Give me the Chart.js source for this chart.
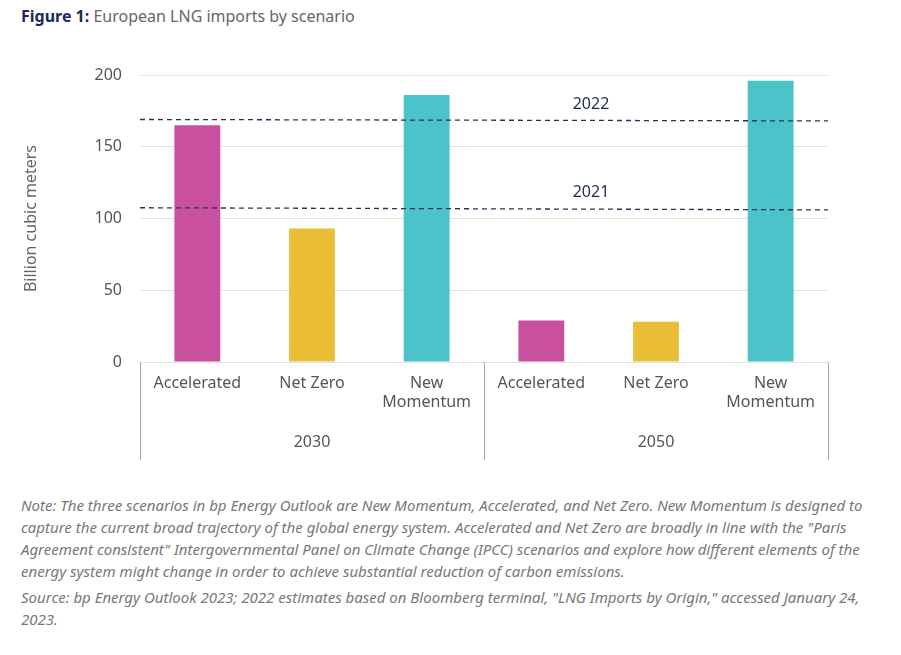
<!DOCTYPE html>
<html>
<head>
<meta charset="utf-8">
<script src="https://cdn.jsdelivr.net/npm/chart.js@4"></script>
<style>
  body { margin: 0; background: #fff; font-family: "Noto Sans", sans-serif; }
  #title { position: absolute; left: 21px; top: 5px; font-size: 16px; color: #666; }
  #title b { color: #1d2a5c; }
  #wrap { position: absolute; left: 0; top: 0; width: 901px; height: 480px; }
  #notes { position: absolute; left: 21px; top: 494px; width: 862px; font-size: 15px; line-height: 22px; color: #777; font-style: italic; }
  #notes p { margin: 0 0 4px 0; }
</style>
</head>
<body>
<div id="title"><b>Figure 1:</b> European LNG imports by scenario</div>
<div id="wrap"><canvas id="lngChart"></canvas></div>
<div id="notes">
<p>Note: The three scenarios in bp Energy Outlook are New Momentum, Accelerated, and Net Zero. New Momentum is designed to capture the current broad trajectory of the global energy system. Accelerated and Net Zero are broadly in line with the "Paris Agreement consistent" Intergovernmental Panel on Climate Change (IPCC) scenarios and explore how different elements of the energy system might change in order to achieve substantial reduction of carbon emissions.</p>
<p>Source: bp Energy Outlook 2023; 2022 estimates based on Bloomberg terminal, "LNG Imports by Origin," accessed January 24, 2023.</p>
</div>
<script>
const categories = [["Accelerated"], ["Net Zero"], ["New", "Momentum"], ["Accelerated"], ["Net Zero"], ["New", "Momentum"]];
const groups = ["2030", "2050"];
const imports = [165, 93, 186, 29, 28, 196];
const barColors = ["#c9509e", "#eabf37", "#4bc3c8", "#c9509e", "#eabf37", "#4bc3c8"];
const refLabels = ["2022", "2021"];
const refStart = [169, 107.5];
const refEnd = [168, 106];

const overlay = {
  id: "overlay",
  afterDatasetsDraw(chart) {
    const ctx = chart.ctx, a = chart.chartArea, y = chart.scales.y;
    ctx.save();
    ctx.strokeStyle = "#2a2f5e"; ctx.lineWidth = 1.3; ctx.setLineDash([5, 4]);
    refLabels.forEach((lab, i) => {
      ctx.beginPath();
      ctx.moveTo(a.left, y.getPixelForValue(refStart[i]));
      ctx.lineTo(a.right, y.getPixelForValue(refEnd[i]));
      ctx.stroke();
    });
    ctx.setLineDash([]);
    ctx.fillStyle = "#1d2a5c"; ctx.font = "16px 'Noto Sans', sans-serif";
    ctx.textAlign = "center"; ctx.textBaseline = "bottom";
    const mx = (a.left + a.right) / 2 + 107;
    refLabels.forEach((lab, i) => {
      ctx.fillText(lab, mx, y.getPixelForValue((refStart[i] + refEnd[i]) / 2) - 8);
    });
    ctx.strokeStyle = "#aaa"; ctx.lineWidth = 1;
    const half = (a.right - a.left) / groups.length;
    for (let g = 0; g <= groups.length; g++) {
      const x = Math.round(a.left + g * half) + 0.5;
      ctx.beginPath(); ctx.moveTo(x, a.bottom); ctx.lineTo(x, a.bottom + 98); ctx.stroke();
    }
    ctx.fillStyle = "#555"; ctx.textBaseline = "middle";
    groups.forEach((g, i) => ctx.fillText(g, a.left + (i + 0.5) * half, a.bottom + 80));
    ctx.restore();
  }
};

new Chart(document.getElementById("lngChart"), {
  type: "bar",
  data: {
    labels: categories,
    datasets: [{ data: imports, backgroundColor: barColors, barPercentage: 0.4, categoryPercentage: 1 }]
  },
  options: {
    responsive: true, maintainAspectRatio: false, animation: false,
    layout: { padding: { top: 75, right: 73, left: 18 } },
    plugins: { legend: { display: false }, tooltip: { enabled: false } },
    scales: {
      x: {
        grid: { display: false }, border: { display: false },
        ticks: { color: "#555", font: { size: 16, family: "Noto Sans" }, maxRotation: 0, padding: 4 },
        afterFit(s) { s.height = 118; }
      },
      y: {
        min: 0, max: 200,
        ticks: { stepSize: 50, color: "#555", font: { size: 16, family: "Noto Sans" }, padding: 18 },
        grid: { color: "#e2e2e2", drawTicks: false }, border: { display: false },
        title: { display: true, text: "Billion cubic meters", color: "#666", font: { size: 16, family: "Noto Sans" } },
        afterFit(s) { s.width = 122; }
      }
    }
  },
  plugins: [overlay]
});
</script>
</body>
</html>
